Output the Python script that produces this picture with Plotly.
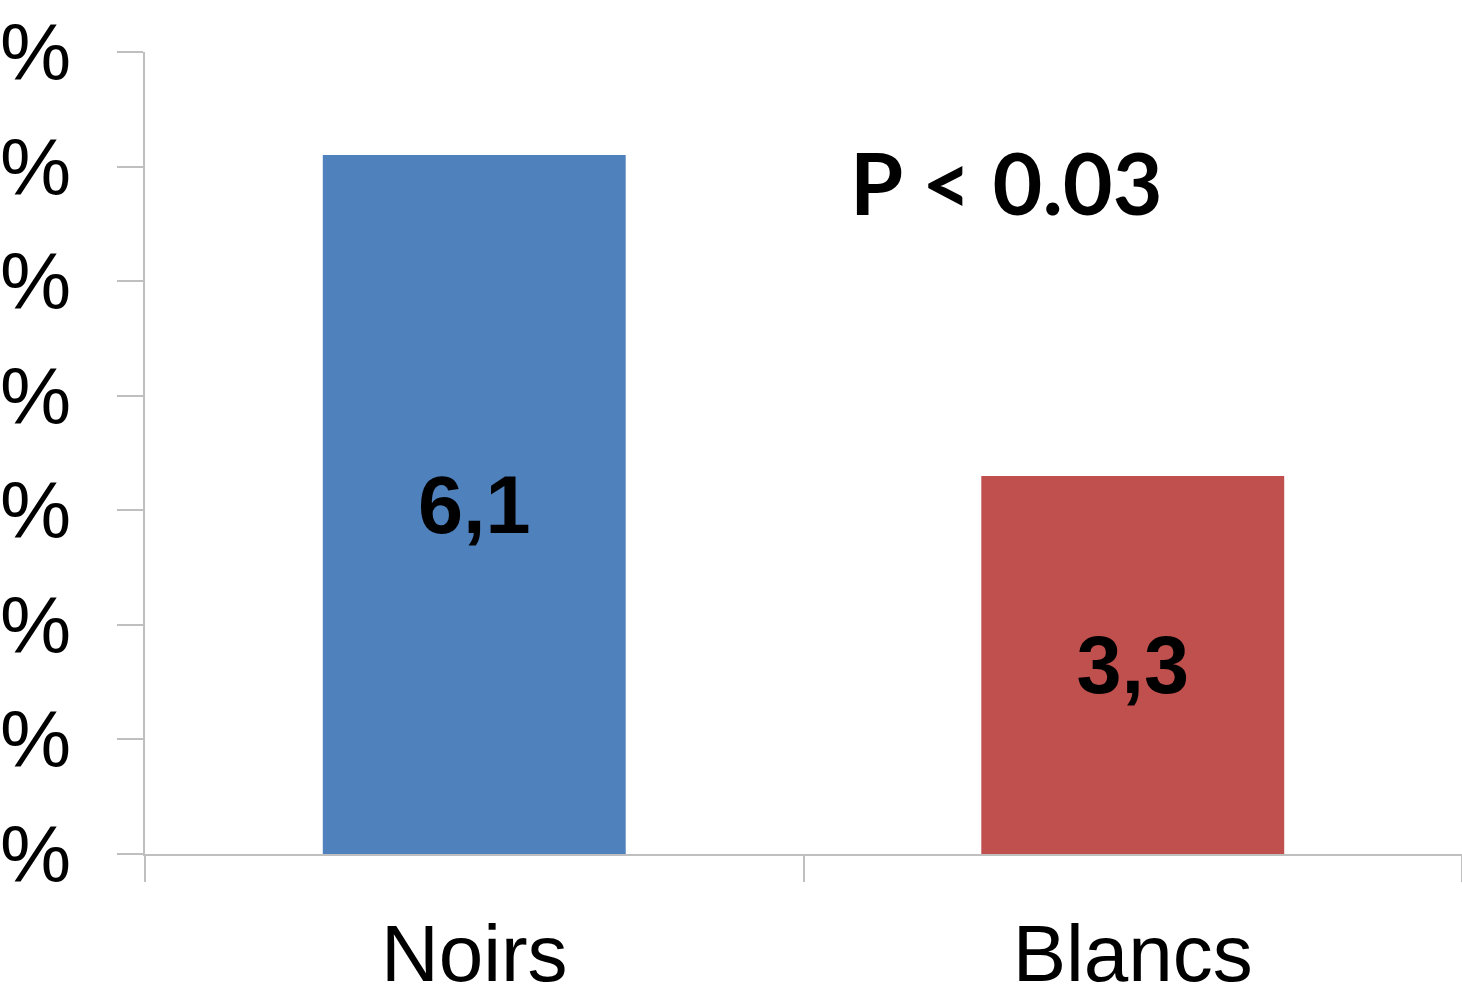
import plotly.graph_objects as go

# Share of patients by group (%)
groups = ["Noirs", "Blancs"]
rates = [6.1, 3.3]
bar_colors = ["#4F81BD", "#C0504D"]
y_tick_values = [0, 1, 2, 3, 4, 5, 6, 7]
y_tick_labels = ["0%", "1%", "2%", "3%", "4%", "5%", "6%", "7%"]
p_value_label = "P < 0.03"

axis_grey = "#bfbfbf"
base_font = "Liberation Sans, Arial, sans-serif"

fig = go.Figure(
    go.Bar(
        x=groups,
        y=rates,
        marker=dict(color=bar_colors, line=dict(width=0)),
        width=0.46,
        text=[f"{v:.1f}".replace(".", ",") for v in rates],
        textposition="inside",
        insidetextanchor="middle",
        textangle=0,
        textfont=dict(family=base_font, size=81, color="black", weight="bold"),
        hoverinfo="skip",
    )
)

fig.add_annotation(
    x=0.808,
    y=5.87,
    xref="x",
    yref="y",
    text=f"<b>{p_value_label}</b>",
    showarrow=False,
    xanchor="center",
    yanchor="middle",
    font=dict(family="Lato, Open Sans, sans-serif", size=86, color="black"),
)

fig.update_layout(
    width=1462,
    height=1002,
    margin=dict(l=145, r=0, t=52, b=148, autoexpand=False),
    paper_bgcolor="white",
    plot_bgcolor="white",
    showlegend=False,
    font=dict(family=base_font, color="black"),
)

fig.update_xaxes(
    type="category",
    showgrid=False,
    showline=True,
    linecolor=axis_grey,
    linewidth=1.5,
    ticks="outside",
    tickson="boundaries",
    ticklen=26,
    tickcolor=axis_grey,
    tickwidth=1.5,
    tickfont=dict(family=base_font, size=80, color="black"),
    ticklabelstandoff=29,
    automargin=False,
    range=[-0.5, 1.5],
)

fig.update_yaxes(
    range=[0, 7],
    tickvals=y_tick_values,
    ticktext=y_tick_labels,
    showgrid=False,
    zeroline=False,
    showline=True,
    linecolor=axis_grey,
    linewidth=1.5,
    ticks="outside",
    ticklen=26,
    tickcolor=axis_grey,
    tickwidth=1.5,
    tickfont=dict(family=base_font, size=80, color="black"),
    ticklabelstandoff=30,
    automargin=False,
)

fig.write_html("out.html")
